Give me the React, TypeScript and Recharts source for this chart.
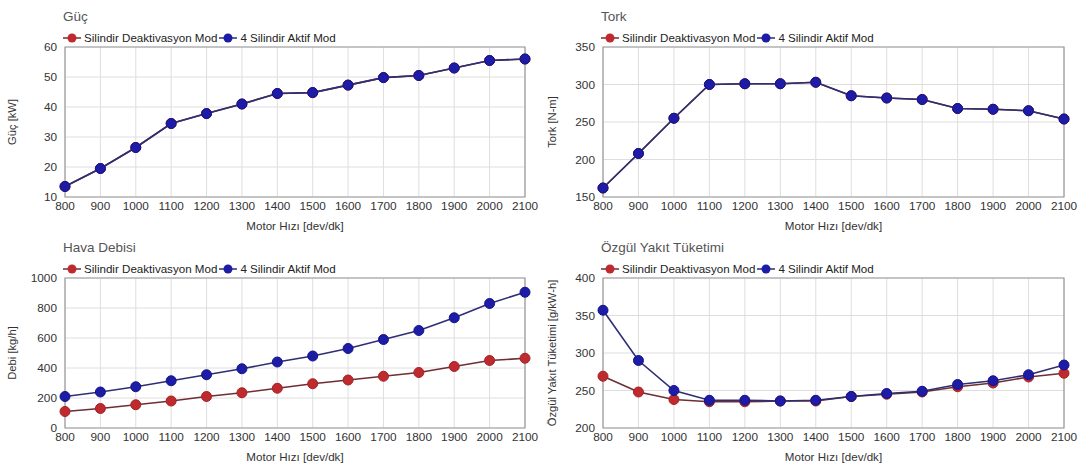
import React from 'react';
import { LineChart, Line, XAxis, YAxis, CartesianGrid, Legend, ReferenceArea } from 'recharts';

const FONT = '"Liberation Sans", Arial, sans-serif';

// motor speed steps (dev/dk)
const rpm = [800, 900, 1000, 1100, 1200, 1300, 1400, 1500, 1600, 1700, 1800, 1900, 2000, 2100];

// Güç [kW]
const gucDeakt = [13.5, 19.5, 26.5, 34.5, 37.8, 41, 44.5, 44.8, 47.3, 49.8, 50.5, 53, 55.5, 56];
const gucAktif = [13.5, 19.5, 26.5, 34.5, 37.8, 41, 44.5, 44.8, 47.3, 49.8, 50.5, 53, 55.5, 56];
const gucTicks = [10, 20, 30, 40, 50, 60];

// Tork [N-m]
const torkDeakt = [162, 208, 255, 300, 301, 301, 303, 285, 282, 280, 268, 267, 265, 254];
const torkAktif = [162, 208, 255, 300, 301, 301, 303, 285, 282, 280, 268, 267, 265, 254];
const torkTicks = [150, 200, 250, 300, 350];

// Hava debisi [kg/h]
const debiDeakt = [110, 130, 155, 180, 210, 235, 265, 295, 320, 345, 370, 410, 450, 465];
const debiAktif = [210, 240, 275, 315, 355, 395, 440, 480, 530, 590, 650, 735, 830, 905];
const debiTicks = [0, 200, 400, 600, 800, 1000];

// Özgül yakıt tüketimi [g/kW-h]
const sfcDeakt = [269, 248, 238, 235, 235, 236, 236, 242, 245, 248, 255, 260, 268, 273];
const sfcAktif = [357, 290, 250, 237, 237, 236, 237, 242, 246, 249, 258, 263, 271, 284];
const sfcTicks = [200, 250, 300, 350, 400];

const seriesNames = ['Silindir Deaktivasyon Mod', '4 Silindir Aktif Mod'];

const RED = { line: '#6e2e34', fill: '#bf2a2e' };
const BLUE = { line: '#2e2e74', fill: '#1c1ca6' };

function table(a: number[], b: number[]) {
  return rpm.map((r, i) => ({ rpm: r, deakt: a[i], aktif: b[i] }));
}

function LegendBox() {
  const items = [
    { name: seriesNames[0], c: RED },
    { name: seriesNames[1], c: BLUE },
  ];
  return (
    <div style={{ display: 'flex', alignItems: 'center', fontFamily: FONT, fontSize: 11.6, color: '#222', whiteSpace: 'nowrap' }}>
      {items.map((it) => (
        <div key={it.name} style={{ display: 'flex', alignItems: 'center', marginRight: 2 }}>
          <svg width={18} height={10}>
            <line x1={0} y1={5} x2={18} y2={5} stroke={it.c.line} strokeWidth={1.5} />
            <circle cx={9} cy={5} r={4.5} fill={it.c.fill} />
          </svg>
          <span style={{ marginLeft: 3 }}>{it.name}</span>
        </div>
      ))}
    </div>
  );
}

interface PanelProps {
  left: number;
  top: number;
  title: string;
  yLabel: string;
  ticks: number[];
  data: { rpm: number; deakt: number; aktif: number }[];
  marginLeft: number;
  marginRight: number;
}

function Panel({ left, top, title, yLabel, ticks, data, marginLeft, marginRight }: PanelProps) {
  const yMin = ticks[0];
  const yMax = ticks[ticks.length - 1];
  const plotLeft = marginLeft + 40;
  return (
    <div style={{ position: 'absolute', left, top, width: 540, height: 235 }}>
      <div
        style={{
          position: 'absolute',
          left: plotLeft - 2,
          top: 9,
          fontFamily: FONT,
          fontSize: 13.5,
          color: '#555',
        }}
      >
        {title}
      </div>
      <LineChart
        width={540}
        height={235}
        data={data}
        margin={{ top: 47, right: marginRight, bottom: 5, left: marginLeft }}
        style={{ fontFamily: FONT }}
      >
        <CartesianGrid stroke="#dedede" strokeWidth={1} />
        <XAxis
          type="number"
          dataKey="rpm"
          domain={[800, 2100]}
          ticks={rpm}
          interval={0}
          height={33}
          axisLine={false}
          tickLine={false}
          tickSize={0}
          tickMargin={5}
          tick={{ fontSize: 11.8, fill: '#333' }}
          label={{ value: 'Motor Hızı [dev/dk]', position: 'insideBottom', offset: 0, fontSize: 11.6, fill: '#333' }}
        />
        <YAxis
          type="number"
          domain={[yMin, yMax]}
          ticks={ticks}
          interval={0}
          width={40}
          axisLine={false}
          tickLine={false}
          tickSize={0}
          tickMargin={8}
          tick={{ fontSize: 11.8, fill: '#333' }}
          label={{
            value: yLabel,
            angle: -90,
            position: 'left',
            offset: plotLeft - 52,
            fontSize: 11.2,
            fill: '#333',
            style: { textAnchor: 'middle' },
          }}
        />
        <ReferenceArea x1={800} x2={2100} y1={yMin} y2={yMax} fill="none" stroke="#9a9a9a" strokeWidth={1.2} ifOverflow="visible" />
        <Legend
          verticalAlign="middle"
          layout="horizontal"
          align="center"
          content={() => <LegendBox />}
          wrapperStyle={{ top: 31, left: plotLeft - 2, width: 340 }}
        />
        <Line
          type="linear"
          dataKey="deakt"
          name={seriesNames[0]}
          stroke={RED.line}
          strokeWidth={1.6}
          dot={{ r: 5, fill: RED.fill, stroke: '#a32226', strokeWidth: 1 }}
          activeDot={false}
          isAnimationActive={false}
        />
        <Line
          type="linear"
          dataKey="aktif"
          name={seriesNames[1]}
          stroke={BLUE.line}
          strokeWidth={1.6}
          dot={{ r: 5, fill: BLUE.fill, stroke: '#14148a', strokeWidth: 1 }}
          activeDot={false}
          isAnimationActive={false}
        />
      </LineChart>
    </div>
  );
}

export default function App() {
  return (
    <div style={{ position: 'fixed', left: 0, top: 0, width: 1079, height: 471, background: '#fff', overflow: 'hidden' }}>
      <Panel left={0} top={0} title="Güç" yLabel="Güç [kW]" ticks={gucTicks} data={table(gucDeakt, gucAktif)} marginLeft={25} marginRight={15} />
      <Panel left={540} top={0} title="Tork" yLabel="Tork [N-m]" ticks={torkTicks} data={table(torkDeakt, torkAktif)} marginLeft={23} marginRight={16} />
      <Panel left={0} top={231} title="Hava Debisi" yLabel="Debi [kg/h]" ticks={debiTicks} data={table(debiDeakt, debiAktif)} marginLeft={25} marginRight={15} />
      <Panel left={540} top={231} title="Özgül Yakıt Tüketimi" yLabel="Özgül Yakıt Tüketimi [g/kW-h]" ticks={sfcTicks} data={table(sfcDeakt, sfcAktif)} marginLeft={23} marginRight={16} />
    </div>
  );
}
